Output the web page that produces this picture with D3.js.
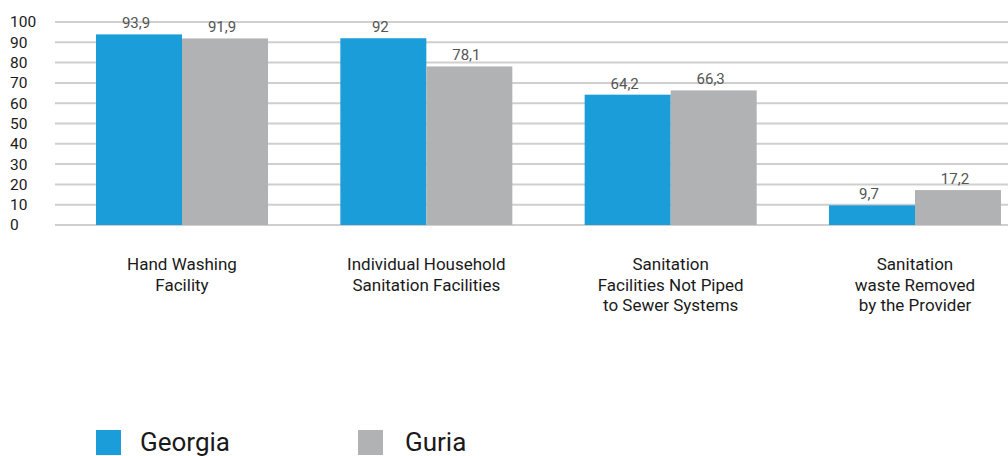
<!DOCTYPE html>
<html>
<head>
<meta charset="utf-8">
<script src="https://cdn.jsdelivr.net/npm/d3@7"></script>
<style>
  body { margin: 0; background: #fff; }
  svg { display: block; font-family: Roboto, "Noto Sans", sans-serif; }
</style>
</head>
<body>
<div id="chart"></div>
<script>
// dane
var categories = [
  ["Hand Washing", "Facility"],
  ["Individual Household", "Sanitation Facilities"],
  ["Sanitation", "Facilities Not Piped", "to Sewer Systems"],
  ["Sanitation", "waste Removed", "by the Provider"]
];
var series = ["Georgia", "Guria"];
var georgia = [93.9, 92, 64.2, 9.7];
var guria = [91.9, 78.1, 66.3, 17.2];
var yTicks = [0, 10, 20, 30, 40, 50, 60, 70, 80, 90, 100];
var colors = ["#1b9dd9", "#b1b2b4"];

var W = 1008, H = 456;
var svg = d3.select("#chart").append("svg")
  .attr("width", W)
  .attr("height", H);

var catIdx = categories.map(function (d, i) { return i; });

var x0 = d3.scaleBand()
  .domain(catIdx)
  .range([96, 1001])
  .paddingInner(0.296)
  .paddingOuter(0);

var x1 = d3.scaleBand()
  .domain(series)
  .range([0, x0.bandwidth()]);

var y = d3.scaleLinear()
  .domain([0, 100])
  .range([225, 22]);

// linie siatki
svg.append("g")
  .selectAll("line")
  .data(yTicks)
  .enter()
  .append("line")
    .attr("x1", 55)
    .attr("x2", W)
    .attr("y1", function (d) { return y(d); })
    .attr("y2", function (d) { return y(d); })
    .style("stroke", "#cfcfcf")
    .style("stroke-width", 2);

// os Y
var yAxis = svg.append("g")
  .attr("transform", "translate(10,0)")
  .call(d3.axisRight(y).tickValues(yTicks).tickSize(0).tickPadding(0));
yAxis.select(".domain").remove();
yAxis.selectAll("text")
  .style("font-family", "Roboto, sans-serif")
  .style("font-size", "15.5px")
  .style("fill", "#1a1a1a");

// slupki
var rows = catIdx.map(function (i) {
  return [{ s: "Georgia", v: georgia[i] }, { s: "Guria", v: guria[i] }];
});

var groups = svg.append("g")
  .selectAll("g")
  .data(rows)
  .enter()
  .append("g")
    .attr("transform", function (d, i) { return "translate(" + x0(i) + ",0)"; });

groups.selectAll("rect")
  .data(function (d) { return d; })
  .enter()
  .append("rect")
    .attr("x", function (d) { return x1(d.s); })
    .attr("y", function (d) { return y(d.v); })
    .attr("width", x1.bandwidth())
    .attr("height", function (d) { return y(0) - y(d.v); })
    .style("fill", function (d, i) { return colors[i]; });

groups.selectAll("text")
  .data(function (d) { return d; })
  .enter()
  .append("text")
    .attr("x", function (d) { return x1(d.s) + x1.bandwidth() / 2 - 3; })
    .attr("y", function (d) { return y(d.v) - 6; })
    .attr("text-anchor", "middle")
    .style("font-size", "15px")
    .style("fill", "#555")
    .text(function (d) { return String(d.v).replace(".", ","); });

// etykiety kategorii
var labels = svg.append("g")
  .selectAll("text")
  .data(categories)
  .enter()
  .append("text")
    .attr("x", function (d, i) { return x0(i) + x0.bandwidth() / 2; })
    .attr("y", 270)
    .attr("text-anchor", "middle")
    .style("font-size", "17px")
    .style("fill", "#1a1a1a");

labels.selectAll("tspan")
  .data(function (d) { return d; })
  .enter()
  .append("tspan")
    .attr("x", function () { return d3.select(this.parentNode).attr("x"); })
    .attr("dy", function (d, i) { return i === 0 ? 0 : 20.5; })
    .text(function (d) { return d; });

// legenda
var legend = svg.append("g")
  .selectAll("g")
  .data(series)
  .enter()
  .append("g")
    .attr("transform", function (d, i) { return "translate(" + (96 + i * 262) + ",430)"; });

legend.append("rect")
  .attr("width", 25)
  .attr("height", 25)
  .style("fill", function (d, i) { return colors[i]; });

legend.append("text")
  .attr("x", function (d, i) { return i === 0 ? 44 : 47; })
  .attr("y", 21)
  .style("font-size", "26px")
  .style("fill", "#1a1a1a")
  .text(function (d) { return d; });
</script>
</body>
</html>
